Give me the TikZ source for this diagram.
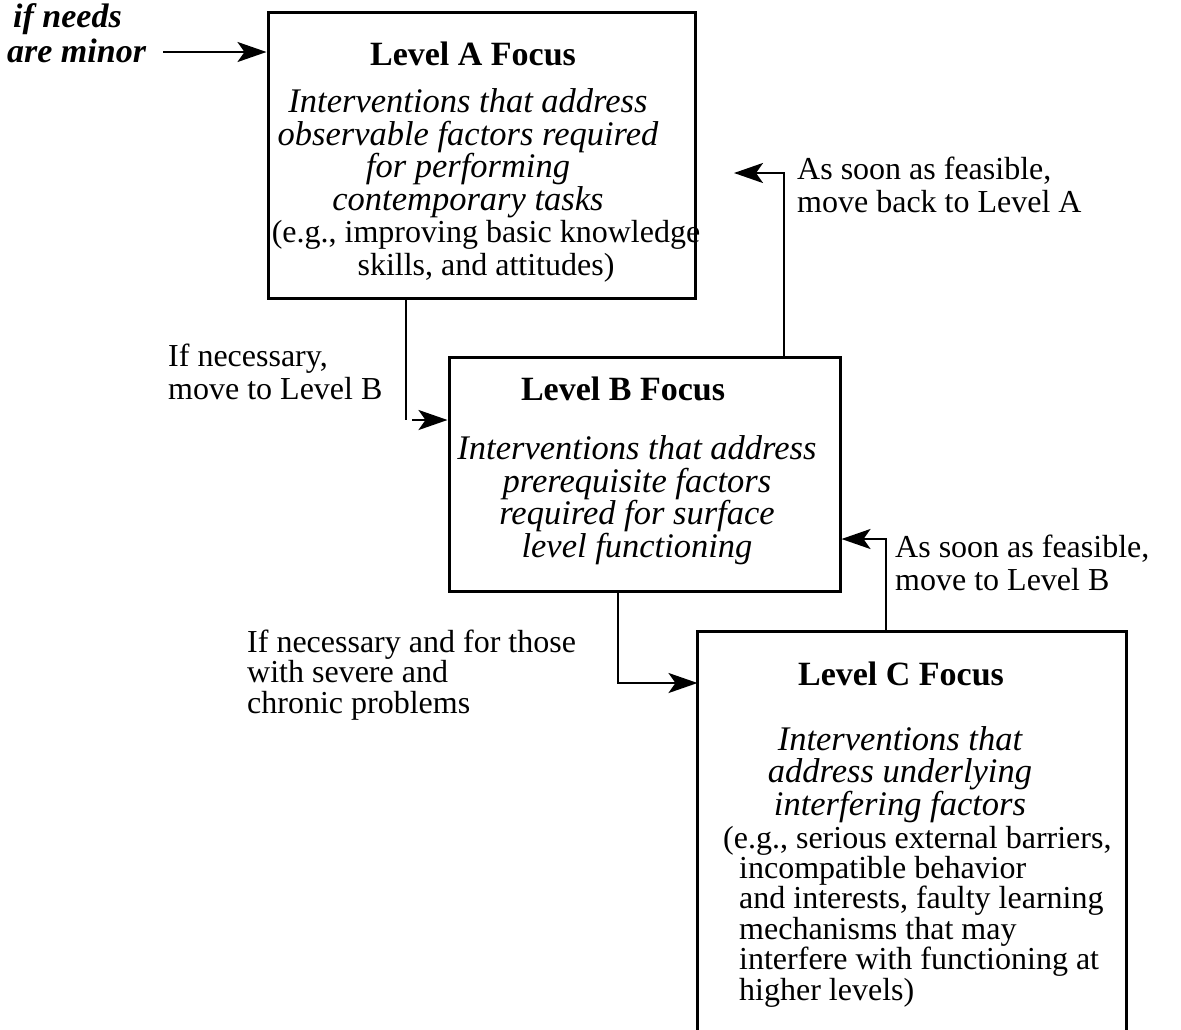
\documentclass[tikz,border=0pt]{standalone}
\usepackage{fontspec}
\setmainfont{Liberation Serif}
\usetikzlibrary{arrows.meta}

\tikzset{
  focusbox/.style={draw, line width=3pt, inner sep=0pt},
  link/.style={line width=2.2pt},
  arr/.style={line width=2.6pt, -{Stealth[length=29pt,width=20pt,inset=7pt]}},
  txt/.style={inner sep=0pt, font=\fontsize{32}{32.4}\selectfont},
  itxt/.style={inner sep=0pt, font=\fontsize{34.5}{32.4}\selectfont\itshape},
  btxt/.style={inner sep=0pt, font=\fontsize{34}{32.4}\selectfont\bfseries},
}

\begin{document}
\begin{tikzpicture}[x=1pt,y=-1pt]
\useasboundingbox (0,0) rectangle (1181,1029);

% the three focus boxes
\node[focusbox, minimum width=427pt, minimum height=286pt] (boxA) at (481.5,155) {};
\node[focusbox, minimum width=391pt, minimum height=234pt] (boxB) at (644.5,474) {};
\node[inner sep=0pt, outer sep=1.5pt, minimum width=426pt, minimum height=400pt] (boxC) at (912,833) {};
\draw[line width=3pt] (boxC.south west) -- (boxC.north west) -- (boxC.north east) -- (boxC.south east);

% box contents (multi-line nodes sit on their last baseline)
\node[btxt, anchor=base] (titleA) at (473,65) {Level A Focus};
\node[itxt, anchor=base, align=center] (bodyA) at (468,210) {Interventions that address\\ observable factors required\\ for performing\\ contemporary tasks};
\node[txt, anchor=base, align=center] (noteA) at (486,275) {(e.g., improving basic knowledge\\ skills, and attitudes)};

\node[btxt, anchor=base] (titleB) at (623,400) {Level B Focus};
\node[itxt, anchor=base, align=center] (bodyB) at (637,557) {Interventions that address\\ prerequisite factors\\ required for surface\\ level functioning};

\node[btxt, anchor=base] (titleC) at (901,685) {Level C Focus};
\node[itxt, anchor=base, align=center] (bodyC) at (900,815) {Interventions that\\ address underlying\\ interfering factors};
\node[inner sep=0pt, font=\fontsize{32}{30.4}\selectfont, anchor=base west, align=left] (noteC) at (723,1000)
  {(e.g., serious external barriers,\\ \hspace*{16pt}incompatible behavior\\ \hspace*{16pt}and interests, faulty learning\\ \hspace*{16pt}mechanisms that may\\ \hspace*{16pt}interfere with functioning at\\ \hspace*{16pt}higher levels)};

% labels
\node[inner sep=0pt, font=\fontsize{34}{35}\selectfont\bfseries\itshape, anchor=base west, align=left] (needs) at (7,62) {\hspace*{6pt}if needs\\ are minor};
\node[txt, anchor=base west, align=left] (backA) at (797,212) {As soon as feasible,\\ move back to Level A};
\node[txt, anchor=base west, align=left] (toB) at (168,399) {If necessary,\\ move to Level B};
\node[txt, anchor=base west, align=left] (backB) at (895,590) {As soon as feasible,\\ move to Level B};
\node[inner sep=0pt, font=\fontsize{32}{30.5}\selectfont, anchor=base west, align=left] (toC) at (247,713) {If necessary and for those\\ with severe and\\ chronic problems};

% connectors
\coordinate (inA) at (163,52);
\draw[arr] (inA) -- (inA -| boxA.west);

\coordinate (abTurn) at (406,420);
\draw[link] (boxA.south -| abTurn) -- (abTurn);
\draw[arr] ([xshift=6pt]abTurn) -- (abTurn -| boxB.west);

\coordinate (baTurn) at (784,173);
\coordinate (baTip) at (734,173);
\draw[arr] (boxB.north -| baTurn) -- (baTurn) -- (baTip);

\coordinate (bcTurn) at (618,683);
\draw[arr] (boxB.south -| bcTurn) -- (bcTurn) -- (bcTurn -| boxC.west);

\coordinate (cbTurn) at (886,539);
\draw[arr] (boxC.north -| cbTurn) -- (cbTurn) -- (cbTurn -| boxB.east);
\end{tikzpicture}
\end{document}
